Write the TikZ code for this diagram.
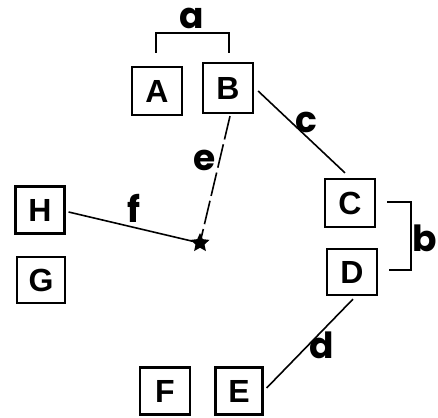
\documentclass[tikz,border=0pt]{standalone}
\usepackage{fontspec}
\setmainfont{Liberation Sans}
\newfontfamily\labfont{Poppins}
\usetikzlibrary{shapes.geometric}
\begin{document}
\begin{tikzpicture}[x=1pt,y=-1pt,
  box/.style={draw,line width=2.2pt,minimum width=50pt,minimum height=48pt,inner sep=0pt,font=\fontsize{32}{32}\selectfont\bfseries},
  lab/.style={inner sep=0pt,font=\labfont\fontsize{36}{36}\selectfont\bfseries},
  conn/.style={line width=1.6pt},
  edash/.style={line width=1.6pt,dash pattern=on 24pt off 5pt},
  brk/.style={line width=2.2pt}]
\useasboundingbox (0,0) rectangle (438,417);
\fill[white] (0,0) rectangle (438,417);
% boxes
\node[box] (A) at (157,91) {A};
\node[box,minimum height=50pt] (B) at (228,88) {B};
\node[box] (C) at (350,203) {C};
\node[box,minimum height=46pt] (D) at (352,272) {D};
\node[box,minimum width=49pt,minimum height=47pt] (H) at (40,210) {H};
\node[box,minimum width=48pt,minimum height=46pt] (G) at (41,280) {G};
\node[box,minimum height=47pt] (F) at (165,391) {F};
\node[box,minimum width=47pt,minimum height=47pt] (E) at (239,391) {E};
% star
\node[star,star points=5,star point ratio=2.1,fill,inner sep=0pt,minimum size=20pt] (S) at (200,243) {};
% connectors
\draw[conn] ([xshift=4pt,yshift=-3pt]B.east) -- ([xshift=-5pt,yshift=5pt]C.north);
\draw[edash] ([xshift=2pt,yshift=-2pt]B.south) -- (S.center);
\draw[conn] ([xshift=3pt,yshift=-2pt]H.east) -- (S.center);
\draw[conn] ([xshift=3pt,yshift=3pt]E.east) -- ([xshift=1pt,yshift=-3pt]D.south);
% brackets
\coordinate (a1) at (156,53);
\coordinate (a2) at (156,33);
\coordinate (a3) at (229,33);
\coordinate (a4) at (229,53);
\draw[brk] (a1) -- (a2) -- (a3) -- (a4);
\coordinate (b1) at (387,202);
\coordinate (b2) at (411,202);
\coordinate (b3) at (411,270);
\coordinate (b4) at (389,270);
\draw[brk] (b1) -- (b2) -- (b3) -- (b4);
% labels
\node[lab] (la) at (192,18) {a};
\node[lab] (lb) at (425,238) {b};
\node[lab] (lc) at (306,122) {c};
\node[lab] (ld) at (322,345) {d};
\node[lab] (le) at (205,160) {e};
\node[lab] (lf) at (134,208) {f};
\end{tikzpicture}
\end{document}
